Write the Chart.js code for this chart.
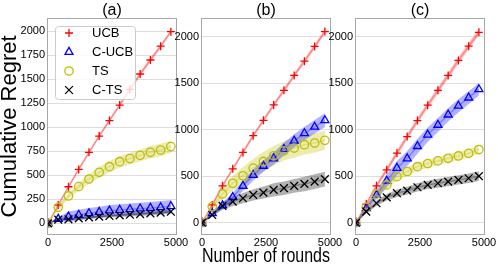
<!DOCTYPE html>
<html>
<head>
<meta charset="utf-8">
<script src="https://cdn.jsdelivr.net/npm/chart.js@4.4.0/dist/chart.umd.min.js"></script>
<style>
  html, body { margin: 0; padding: 0; background: #fff; }
  #wrap { position: relative; width: 498px; height: 274px; }
  #wrap canvas { position: absolute; left: 0; top: 0; }
</style>
</head>
<body>
<div id="wrap">
  <canvas id="panelA" width="498" height="274"></canvas>
  <canvas id="panelB" width="498" height="274"></canvas>
  <canvas id="panelC" width="498" height="274"></canvas>
</div>
<script>
// rounds where the curves were sampled
const rounds = [0, 400, 800, 1200, 1600, 2000, 2400, 2800, 3200, 3600, 4000, 4400, 4800];
const seriesNames = ['UCB', 'C-UCB', 'TS', 'C-TS'];
const xTicks = [0, 2500, 5000];
const yTicksA = [0, 250, 500, 750, 1000, 1250, 1500, 1750, 2000];
const yTicksBC = [0, 500, 1000, 1500, 2000];

// panel (a)
const ucbA  = [0, 190, 381, 562, 740, 909, 1070, 1232, 1395, 1555, 1701, 1845, 1996];
const cucbA = [0, 45, 69, 87, 104, 118, 132, 139, 146, 153, 160, 167, 178];
const tsA   = [0, 167, 285, 382, 462, 531, 590, 642, 674, 708, 740, 764, 799];
const ctsA  = [0, 38, 42, 52, 62, 70, 77, 83, 90, 97, 104, 111, 121];
const ucbSdA  = [0, 15, 15, 15, 15, 15, 18, 18, 18, 20, 20, 20, 20];
const cucbSdA = [0, 15, 55, 55, 55, 55, 58, 60, 60, 62, 62, 65, 65];
const tsSdA   = [0, 20, 30, 40, 50, 55, 60, 60, 62, 62, 65, 65, 65];
const ctsSdA  = [0, 10, 12, 14, 15, 16, 17, 18, 19, 20, 20, 21, 22];

// panel (b)
const ucbB  = [0, 191, 396, 579, 755, 935, 1100, 1265, 1422, 1582, 1735, 1893, 2053];
const cucbB = [0, 100, 185, 275, 395, 511, 610, 690, 790, 880, 960, 1030, 1100];
const tsB   = [0, 173, 309, 424, 504, 586, 658, 719, 773, 802, 838, 856, 885];
const ctsB  = [0, 83, 180, 227, 263, 299, 324, 353, 371, 396, 417, 442, 468];
const ucbSdB  = [0, 15, 18, 18, 20, 20, 22, 22, 24, 24, 25, 25, 25];
const cucbSdB = [0, 20, 35, 45, 55, 60, 62, 65, 68, 70, 72, 72, 75];
const tsSdB   = [0, 30, 60, 80, 95, 100, 105, 105, 105, 105, 105, 105, 105];
const ctsSdB  = [0, 20, 40, 50, 55, 60, 65, 70, 72, 75, 78, 80, 80];

// panel (c)
const ucbC  = [0, 200, 396, 568, 748, 925, 1097, 1262, 1422, 1582, 1743, 1896, 2045];
const cucbC = [0, 155, 298, 450, 588, 690, 822, 945, 1050, 1160, 1255, 1343, 1432];
const tsC   = [0, 165, 309, 406, 495, 550, 602, 635, 664, 692, 717, 745, 786];
const ctsC  = [0, 119, 209, 273, 317, 345, 381, 406, 424, 442, 460, 478, 500];
const ucbSdC  = [0, 20, 25, 28, 30, 30, 32, 32, 34, 34, 35, 35, 35];
const cucbSdC = [0, 30, 50, 65, 75, 80, 80, 78, 75, 72, 70, 68, 65];
const tsSdC   = [0, 20, 35, 40, 45, 45, 45, 45, 45, 45, 45, 45, 45];
const ctsSdC  = [0, 20, 30, 35, 40, 42, 45, 45, 48, 50, 50, 52, 52];

const FONT = '"Liberation Sans", Arial, sans-serif';

const styles = [
  { color: '#ff0000', line: 'rgba(255,0,0,0.3)',   band: 'rgba(255,0,0,0.25)',   marker: 'cross',    r: 4,   order: 4 },
  { color: '#0000ff', line: 'rgba(0,0,255,0.3)',   band: 'rgba(0,0,255,0.3)',    marker: 'triangle', r: 4.6, order: 3 },
  { color: '#bfbf00', line: 'rgba(191,191,0,0.3)', band: 'rgba(191,191,0,0.3)',  marker: 'circle',   r: 4.2, order: 2 },
  { color: '#000000', line: 'rgba(0,0,0,0.3)',     band: 'rgba(0,0,0,0.3)',      marker: 'crossRot', r: 5.5, order: 1 }
];

function pts(vals) {
  return rounds.map((r, i) => ({ x: r, y: vals[i] }));
}

function seriesSets(idx, mean, spread) {
  const st = styles[idx];
  const lo = mean.map((m, i) => m - spread[i]);
  const hi = mean.map((m, i) => m + spread[i]);
  return [
    { label: seriesNames[idx] + ' lo', data: pts(lo), borderColor: 'transparent', borderWidth: 0,
      pointRadius: 0, fill: false, order: 10 + idx },
    { label: seriesNames[idx] + ' hi', data: pts(hi), borderColor: 'transparent', borderWidth: 0,
      pointRadius: 0, fill: '-1', backgroundColor: st.band, order: 10 + idx },
    { label: seriesNames[idx], inLegend: true, data: pts(mean), borderColor: st.line, borderWidth: 1.5,
      pointStyle: st.marker, pointRadius: st.r, pointBorderColor: st.color,
      pointBackgroundColor: 'rgba(0,0,0,0)', pointBorderWidth: 1.3, fill: false, order: st.order }
  ];
}

const framePlugin = {
  id: 'frame',
  afterDatasetsDraw(chart) {
    const { ctx, chartArea: a } = chart;
    ctx.save();
    ctx.strokeStyle = '#a8a8a8';
    ctx.lineWidth = 1;
    ctx.strokeRect(a.left - 0.5, a.top - 0.5, a.right - a.left + 1, a.bottom - a.top + 1);
    ctx.restore();
  }
};

const boxLegend = {
  id: 'boxLegend',
  afterDraw(chart, args, opts) {
    if (!opts.show) return;
    const ctx = chart.ctx;
    const a = chart.chartArea;
    const x0 = a.left + 7, y0 = a.top + 7, w = 80, h = 73;
    ctx.save();
    ctx.fillStyle = 'rgba(255,255,255,0.8)';
    ctx.strokeStyle = '#cccccc';
    ctx.lineWidth = 1;
    ctx.beginPath();
    ctx.roundRect(x0 + 0.5, y0 + 0.5, w, h, 3);
    ctx.fill();
    ctx.stroke();
    const items = chart.data.datasets.filter(d => d.inLegend);
    items.forEach((d, i) => {
      const cy = y0 + 7 + i * 19;
      ctx.strokeStyle = d.pointBorderColor;
      ctx.fillStyle = 'rgba(0,0,0,0)';
      ctx.lineWidth = d.pointBorderWidth;
      Chart.helpers.drawPoint(ctx, { pointStyle: d.pointStyle, radius: d.pointRadius, borderWidth: d.pointBorderWidth, rotation: 0 }, x0 + 14, cy);
      ctx.fillStyle = '#000';
      ctx.font = '13px ' + FONT;
      ctx.textBaseline = 'middle';
      ctx.textAlign = 'left';
      ctx.fillText(d.label, x0 + 37, cy);
    });
    ctx.restore();
  }
};

function makePanel(id, title, series, spreads, cfg) {
  let datasets = [];
  series.forEach((s, i) => { datasets = datasets.concat(seriesSets(i, s, spreads[i])); });
  return new Chart(document.getElementById(id), {
    type: 'line',
    data: { datasets },
    plugins: [framePlugin, boxLegend],
    options: {
      responsive: false,
      animation: false,
      devicePixelRatio: 1,
      layout: { autoPadding: false, padding: { left: cfg.padLeft, right: cfg.padRight, top: 0, bottom: 0 } },
      elements: { line: { tension: 0 } },
      plugins: {
        legend: { display: false },
        tooltip: { enabled: false },
        boxLegend: { show: !!cfg.legend },
        title: {
          display: true, text: title, color: '#000', fullSize: false,
          font: { family: FONT, size: 16, weight: 'normal', lineHeight: 1 },
          padding: { top: 3, bottom: 0 }
        }
      },
      scales: {
        x: {
          type: 'linear', min: 0, max: 5000,
          afterBuildTicks(s) { s.ticks = xTicks.map(v => ({ value: v })); },
          afterFit(s) { s.height = 40; s.paddingLeft = 0; s.paddingRight = 0; },
          grid: { display: false, drawTicks: false },
          border: { display: false },
          ticks: { color: '#000', padding: 2, maxRotation: 0, autoSkip: false,
                   callback: v => String(v), font: { family: FONT, size: 11 } },
          title: {
            display: !!cfg.xTitle, text: 'Number of rounds', color: '#000',
            font: { family: FONT, size: 21, lineHeight: 1 }, padding: { top: 0, bottom: 7.5 }
          }
        },
        y: {
          min: cfg.yMin, max: cfg.yMax,
          afterBuildTicks(s) { s.ticks = cfg.yTicks.map(v => ({ value: v })); },
          afterFit(s) { s.width = cfg.yWidth; s.paddingTop = 0; s.paddingBottom = 0; },
          grid: { color: '#dedede', drawTicks: false },
          border: { display: false },
          ticks: { color: '#000', padding: 3, autoSkip: false,
                   callback: v => String(v), font: { family: FONT, size: 11 } },
          title: {
            display: !!cfg.yTitle, text: 'Cumulative Regret', color: '#000',
            font: { family: FONT, size: 22, lineHeight: 0.9 }, padding: { top: 0, bottom: 0 }
          }
        }
      }
    }
  });
}

makePanel('panelA', '(a)', [ucbA, cucbA, tsA, ctsA], [ucbSdA, cucbSdA, tsSdA, ctsSdA],
  { padLeft: 0, padRight: 322, yWidth: 48, yMin: -111, yMax: 2128, yTicks: yTicksA, legend: true, yTitle: true });
makePanel('panelB', '(b)', [ucbB, cucbB, tsB, ctsB], [ucbSdB, cucbSdB, tsSdB, ctsSdB],
  { padLeft: 160, padRight: 168, yWidth: 42, yMin: -121, yMax: 2188, yTicks: yTicksBC, xTitle: true });
makePanel('panelC', '(c)', [ucbC, cucbC, tsC, ctsC], [ucbSdC, cucbSdC, tsSdC, ctsSdC],
  { padLeft: 314, padRight: 14, yWidth: 42, yMin: -121, yMax: 2188, yTicks: yTicksBC });
</script>
</body>
</html>
